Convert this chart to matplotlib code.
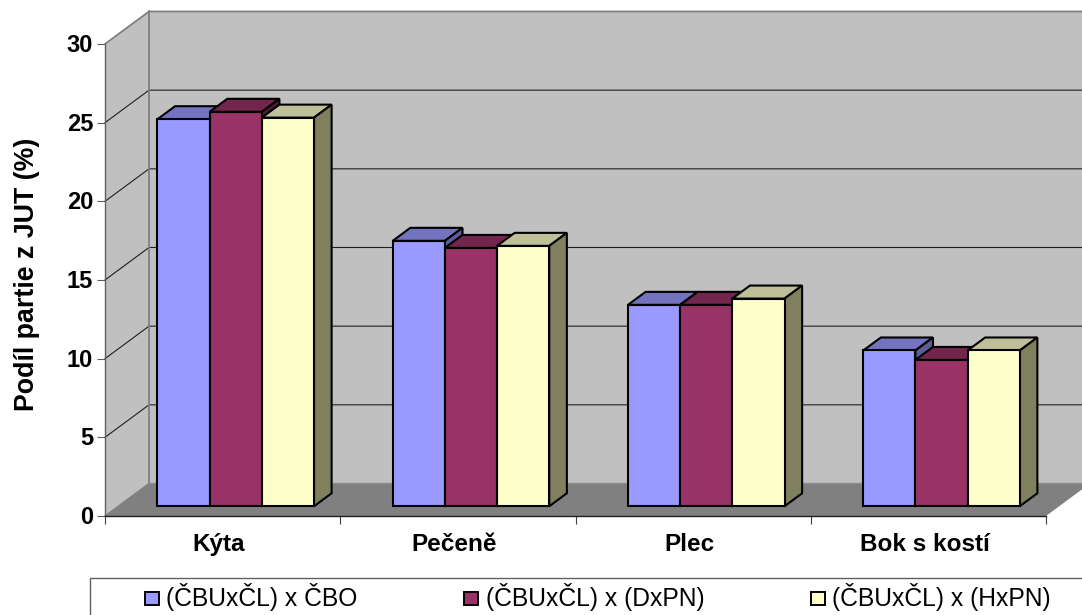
import matplotlib
matplotlib.use("Agg")
import matplotlib.pyplot as plt
from matplotlib.patches import Polygon, Rectangle
from matplotlib.transforms import ScaledTranslation

categories = ["Kýta", "Pečeně", "Plec", "Bok s kostí"]
series_names = ["(ČBUxČL) x ČBO", "(ČBUxČL) x (DxPN)", "(ČBUxČL) x (HxPN)"]
series_a = [24.6, 16.87, 12.8, 9.9]
series_b = [25.07, 16.42, 12.8, 9.3]
series_c = [24.7, 16.55, 13.2, 9.9]
series_values = [series_a, series_b, series_c]
y_ticks = [0, 5, 10, 15, 20, 25, 30]

front_colors = ["#9999FF", "#993366", "#FFFFCC"]
top_colors = ["#7373BF", "#73264D", "#BFBF99"]
side_colors = ["#5C5C99", "#4D1A33", "#80805F"]

W, H = 1082, 615
plt.rcParams["font.family"] = ["Liberation Sans", "DejaVu Sans"]
fig = plt.figure(figsize=(W / 100, H / 100), dpi=100)
ax = fig.add_axes([105 / W, (H - 516) / H, 941 / W, 472 / H])
ax.set_xlim(0, 4)
ax.set_ylim(0, 30)
ax.patch.set_visible(False)

# Oblique projection: depth 0 is the front plane, depth 1 the back wall.
DX = 44 / 235.25
DY = 32.5 / 15.73


def proj(x, y, d):
    return (x + d * DX, y + d * DY)


def poly(points, face, edge="none", lw=0.0, z=1):
    ax.add_patch(Polygon(points, closed=True, facecolor=face, edgecolor=edge,
                         linewidth=lw, zorder=z, clip_on=False, joinstyle="miter"))


# Walls and floor
poly([proj(0, 0, 1), proj(4, 0, 1), proj(4, 30, 1), proj(0, 30, 1)], "#C0C0C0", z=1)
poly([proj(0, 0, 0), proj(0, 0, 1), proj(0, 30, 1), proj(0, 30, 0)], "#C0C0C0", z=1)
poly([proj(0, 0, 0), proj(4, 0, 0), proj(4, 0, 1), proj(0, 0, 1)], "#808080", z=2)

# Gridlines across the side wall and back wall
for v in y_ticks[1:-1]:
    xs, ys = zip(proj(0, v, 0), proj(0, v, 1), proj(4, v, 1))
    ax.plot(xs, ys, color="#202020", lw=0.8, zorder=3, clip_on=False)

# Wall borders
xs, ys = zip(proj(0, 30, 0), proj(0, 30, 1), proj(4, 30, 1))
ax.plot(xs, ys, color="#808080", lw=1.3, zorder=3, clip_on=False)
xs, ys = zip(proj(0, 0, 1), proj(0, 30, 1))
ax.plot(xs, ys, color="#808080", lw=1.3, zorder=3, clip_on=False)
xs, ys = zip(proj(0, 0, 1), proj(4, 0, 1))
ax.plot(xs, ys, color="#8C8C8C", lw=1.0, zorder=3, clip_on=False)
xs, ys = zip(proj(0, 0, 0), proj(0, 0, 1))
ax.plot(xs, ys, color="#808080", lw=1.0, zorder=3, clip_on=False)

# Bars, painted left to right so that each covers its neighbour's side face
BAR_W = 0.2218
GROUP_START = 0.167
D_FRONT, D_BACK = 0.3, 0.7
z = 10
for c in range(len(categories)):
    for s, values in enumerate(series_values):
        v = values[c]
        x0 = c + GROUP_START + s * BAR_W
        x1 = x0 + BAR_W
        kw = dict(edge="black", lw=1.5)
        poly([proj(x0, v, D_FRONT), proj(x1, v, D_FRONT),
              proj(x1, v, D_BACK), proj(x0, v, D_BACK)], top_colors[s], z=z, **kw)
        poly([proj(x1, 0, D_FRONT), proj(x1, 0, D_BACK),
              proj(x1, v, D_BACK), proj(x1, v, D_FRONT)], side_colors[s], z=z, **kw)
        poly([proj(x0, 0, D_FRONT), proj(x1, 0, D_FRONT),
              proj(x1, v, D_FRONT), proj(x0, v, D_FRONT)], front_colors[s], z=z, **kw)
        z += 1

# Axes
for name in ("top", "right"):
    ax.spines[name].set_visible(False)
ax.spines["left"].set_color("#606060")
ax.spines["left"].set_linewidth(1.0)
ax.spines["bottom"].set_color("#202020")
ax.spines["bottom"].set_linewidth(1.0)
ax.spines["left"].set_zorder(5)
ax.spines["bottom"].set_zorder(5)

ax.set_yticks(y_ticks)
ax.set_yticklabels([str(v) for v in y_ticks], fontsize=17, fontweight="bold")
ax.tick_params(axis="y", length=5.8, width=0.8, color="#606060", pad=2.8)
up = ScaledTranslation(0, 1 / 100, fig.dpi_scale_trans)
for lab in ax.get_yticklabels():
    lab.set_transform(lab.get_transform() + up)

ax.set_xticks(range(5))
ax.set_xticklabels([""] * 5)
ax.tick_params(axis="x", which="major", length=5.8, width=0.8, color="#404040")
ax.set_xticks([i + 0.5 for i in range(4)], minor=True)
ax.set_xticklabels(categories, minor=True, fontsize=17.5, fontweight="bold")
ax.tick_params(axis="x", which="minor", length=0, pad=12)
shift = ScaledTranslation(-4 / 100, 0, fig.dpi_scale_trans)
for lab in ax.get_xticklabels(minor=True):
    lab.set_transform(lab.get_transform() + shift)

fig.text(27.5 / W, 1 - 274.5 / H, "Podíl partie z JUT (%)", rotation=90,
         ha="center", va="center", fontsize=19.3, fontweight="bold")

# Legend frame runs past the canvas on the right and below
fig.add_artist(Rectangle((90 / W, -0.05), 1.0, 1 - 578 / H + 0.05,
                         transform=fig.transFigure, facecolor="white",
                         edgecolor="#606060", linewidth=1.0))
legend_swatch_x = [145, 464, 811]
legend_text_x = [166, 486, 832]
for name, color, sx, tx in zip(series_names, front_colors, legend_swatch_x, legend_text_x):
    fig.add_artist(Rectangle((sx / W, 1 - 605 / H), 14 / W, 13 / H,
                             transform=fig.transFigure, facecolor=color,
                             edgecolor="black", linewidth=1.4))
    fig.text(tx / W, 1 - 597 / H, name, ha="left", va="center", fontsize=17.7)

fig.savefig("out.png", dpi=100)
